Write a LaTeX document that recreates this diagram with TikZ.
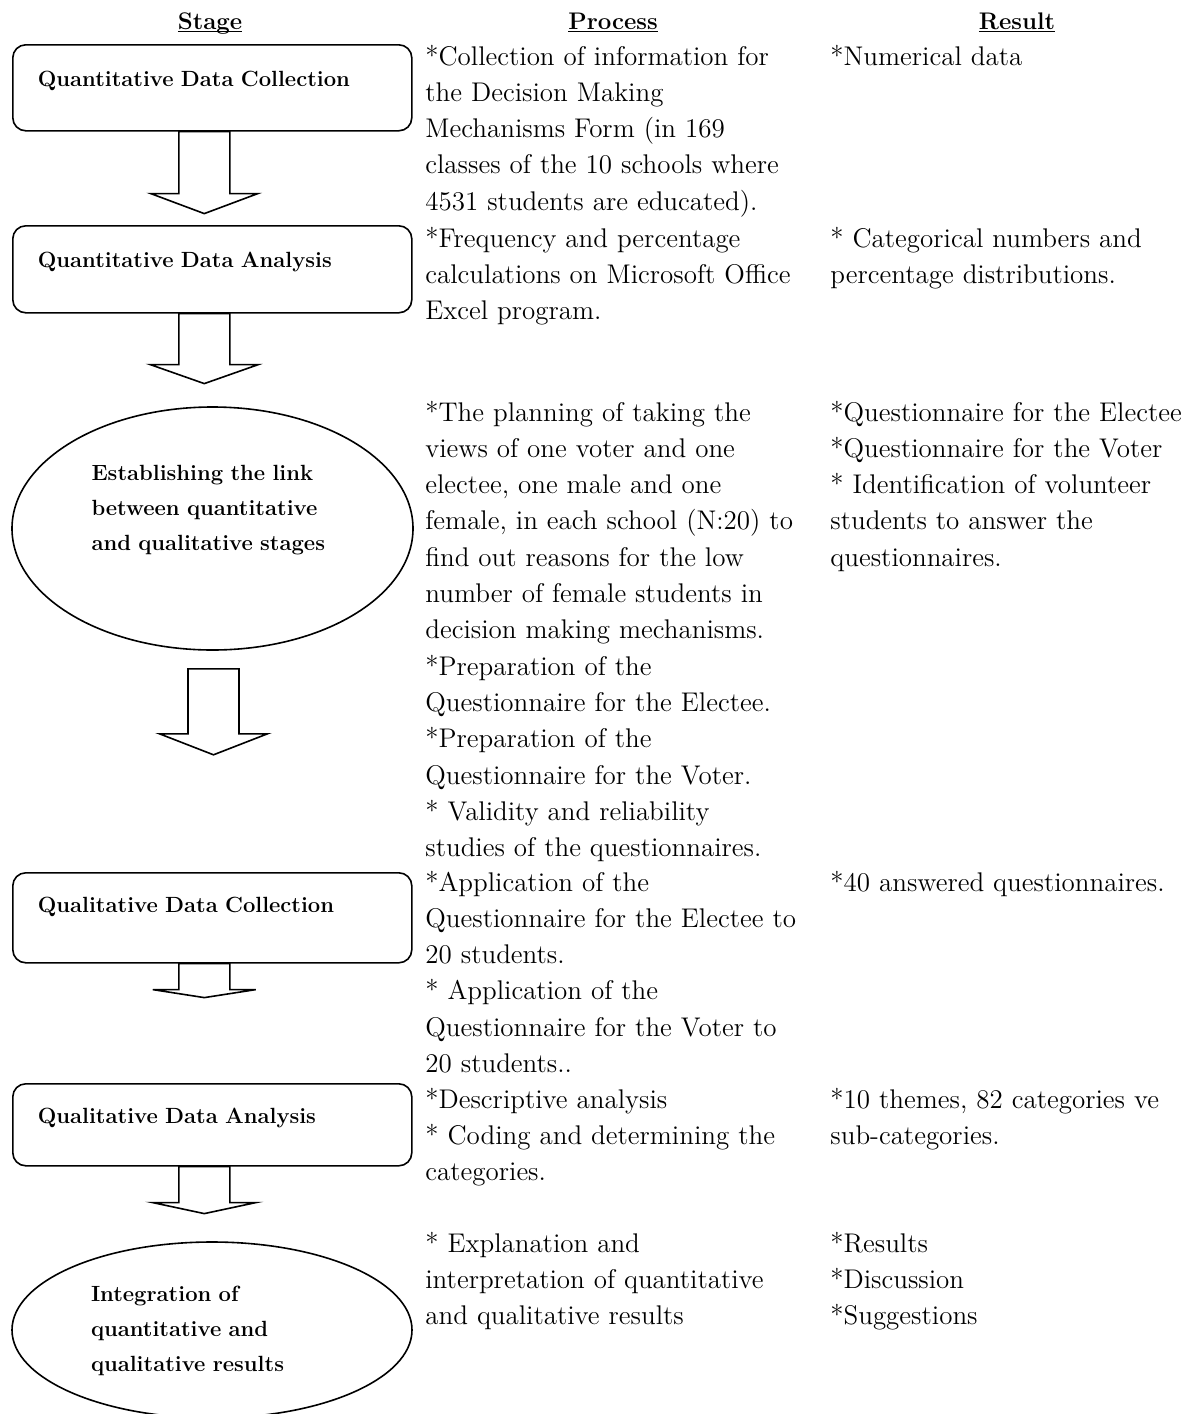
\documentclass[tikz,border=0pt]{standalone}
\usetikzlibrary{shapes.geometric,calc}

\newcommand{\hdrline}[1]{\underline{\raisebox{0pt}[\height][0pt]{#1}}}
\newcommand{\blockarrow}[4]{%
  \draw[arrowbox, shift={(#1)}] (-25.5,0) -- (-25.5,#2) -- (-#4,#2) -- (0,{#2+#3})
    -- (#4,#2) -- (25.5,#2) -- (25.5,0) -- cycle;}

\tikzset{
  stagebox/.style={draw, rounded corners=6.5pt, line width=0.8pt, anchor=north west,
    text width=174.5pt, inner xsep=12.5pt, inner ysep=0pt, align=left,
    font=\fontsize{11}{17.5}\selectfont\bfseries, text height=21pt, text depth=22pt},
  stageoval/.style={draw, ellipse, line width=0.8pt, inner sep=0pt, text width=121pt,
    align=left, font=\fontsize{11}{17.5}\selectfont\bfseries, text height=10pt},
  colhead/.style={font=\fontsize{12}{14}\selectfont\bfseries, anchor=base, inner sep=0pt},
  coltext/.style={anchor=base west, inner sep=0pt, text width=240pt, align=left,
    font=\fontsize{13.5}{18.15}\selectfont},
  arrowbox/.style={draw, line width=0.8pt, line join=miter},
}

\begin{document}
\begin{tikzpicture}[x=0.5pt,y=-0.5pt]
  \useasboundingbox (0,0) rectangle (1189,1414);

  \node[colhead] (hstage) at (210,29) {\hdrline{Stage}};
  \node[colhead] (hproc) at (613,29) {\hdrline{Process}};
  \node[colhead] (hres) at (1017,29) {\hdrline{Result}};

  \node[stagebox] (qdc) at (12,44) {Quantitative Data Collection};
  \node[stagebox, text depth=22.5pt] (qda) at (12,225) {Quantitative Data Analysis};
  \node[stageoval, minimum width=200.5pt, minimum height=121.5pt, text depth=58.5pt]
    (link) at (212.5,528.5) {Establishing the link\\between quantitative\\and qualitative stages};
  \node[stagebox, text height=20pt, text depth=25pt] (qlc) at (12,872) {Qualitative Data Collection};
  \node[stagebox, text height=20pt, text depth=21pt] (qla) at (12,1083) {Qualitative Data Analysis};
  \node[stageoval, minimum width=200pt, minimum height=88pt, text depth=39pt]
    (integ) at (212,1330) {Integration of\\quantitative and\\qualitative results};

  \blockarrow{$(qdc.south)+(-8,0)$}{62}{20}{53.5}
  \blockarrow{$(qda.south)+(-8,0)$}{51}{19}{54}
  \blockarrow{$(link.south)+(1,18)$}{65}{21}{54}
  \blockarrow{$(qlc.south)+(-8,0)$}{26}{8}{51.5}
  \blockarrow{$(qla.south)+(-8,0)$}{36}{11}{51.5}

  \node[coltext] (p1) at (425,65) {*Collection of information for\\the Decision Making\\Mechanisms Form (in 169\\classes of the 10 schools where\\4531 students are educated).};
  \node[coltext] (p2) at (425,247) {*Frequency and percentage\\calculations on Microsoft Office\\Excel program.};
  \node[coltext] (p3) at (425,421) {*The planning of taking the\\views of one voter and one\\electee, one male and one\\female, in each school (N:20) to\\find out reasons for the low\\number of female students in\\decision making mechanisms.\\{}*Preparation of the\\Questionnaire for the Electee.\\{}*Preparation of the\\Questionnaire for the Voter.\\{}* Validity and reliability\\studies of the questionnaires.};
  \node[coltext] (p4) at (425,891) {*Application of the\\Questionnaire for the Electee to\\20 students.\\{}* Application of the\\Questionnaire for the Voter to\\20 students..};
  \node[coltext] (p5) at (425,1108) {*Descriptive analysis\\{}* Coding and determining the\\categories.};
  \node[coltext] (p6) at (425,1252) {* Explanation and\\interpretation of quantitative\\and qualitative results};

  \node[coltext] (r1) at (830,65) {*Numerical data};
  \node[coltext] (r2) at (830,247) {* Categorical numbers and\\percentage distributions.};
  \node[coltext] (r3) at (830,421) {*Questionnaire for the Electee\\{}*Questionnaire for the Voter\\{}* Identification of volunteer\\students to answer the\\questionnaires.};
  \node[coltext] (r4) at (830,891) {*40 answered questionnaires.};
  \node[coltext] (r5) at (830,1108) {*10 themes, 82 categories ve\\sub-categories.};
  \node[coltext] (r6) at (830,1252) {*Results\\{}*Discussion\\{}*Suggestions};
\end{tikzpicture}
\end{document}
